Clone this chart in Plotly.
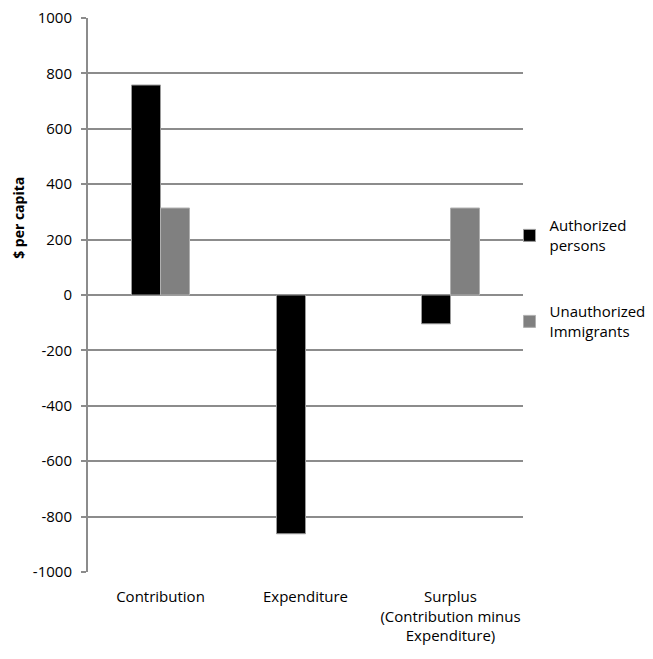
import plotly.graph_objects as go

categories = ["Contribution", "Expenditure", "Surplus<br>(Contribution minus<br>Expenditure)"]
authorized = [758, -862, -104]
unauthorized = [314, None, 314]
series_names = ["Authorized<br>persons", "Unauthorized<br>Immigrants"]
y_ticks = [1000, 800, 600, 400, 200, 0, -200, -400, -600, -800, -1000]

FONT = "Open Sans, Noto Sans, sans-serif"

fig = go.Figure()
fig.add_trace(go.Bar(x=categories, y=authorized, name=series_names[0], legendgroup="a",
                     marker=dict(color="#000000", line=dict(color="#9a9a9a", width=1))))
fig.add_trace(go.Bar(x=categories, y=unauthorized, name=series_names[1], legendgroup="b",
                     marker=dict(color="#808080", line=dict(color="#b0b0b0", width=1))))

fig.update_layout(
    width=645, height=651,
    margin=dict(l=80, r=130, t=10, b=87, autoexpand=False),
    paper_bgcolor="white", plot_bgcolor="white",
    barmode="group", bargap=0.6, bargroupgap=0,
    font=dict(family=FONT, size=14, color="#000000"),
    showlegend=True,
    legend=dict(x=0.969, xanchor="left", y=0.53, yanchor="middle",
                font=dict(size=15), tracegroupgap=44, itemwidth=30,
                bgcolor="rgba(0,0,0,0)"),
    xaxis=dict(showgrid=False, showline=False, ticks="", tickfont=dict(size=15),
               zeroline=False, automargin=False, ticklabelstandoff=14,
               ticklabeloverflow="allow"),
    yaxis=dict(range=[-1000, 1000], tickvals=y_ticks, ticktext=[str(v) for v in y_ticks],
               showgrid=True, gridcolor="#8c8c8c", gridwidth=2,
               zeroline=True, zerolinecolor="#8c8c8c", zerolinewidth=2,
               showline=True, linecolor="#8c8c8c", linewidth=2,
               ticks="outside", ticklen=5, tickcolor="#8c8c8c", tickwidth=2,
               tickfont=dict(size=15), automargin=False, ticklabelstandoff=6,
               ticklabeloverflow="allow"),
)

fig.add_annotation(text="<b>$ per capita</b>", textangle=-90, xref="paper", yref="paper",
                   x=-0.16, y=0.64, xanchor="center", yanchor="middle",
                   showarrow=False, font=dict(size=14))

fig.write_html("out.html")
